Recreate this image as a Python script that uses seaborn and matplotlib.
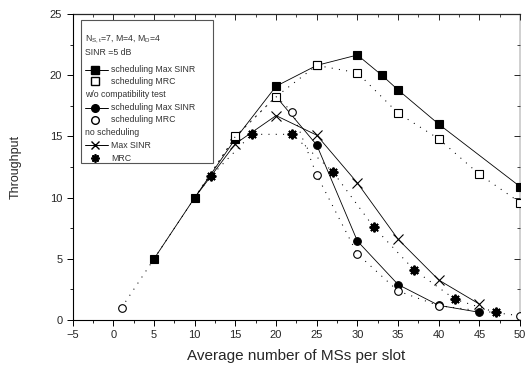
import matplotlib
matplotlib.use("Agg")
import matplotlib.pyplot as plt
import seaborn as sns
from matplotlib.lines import Line2D
from matplotlib.patches import Rectangle
from matplotlib.ticker import MultipleLocator, NullFormatter

# ---- data ----
sched_maxsinr_x = [5, 10, 15, 20, 25, 30, 33, 35, 40, 50]
sched_maxsinr_y = [5.0, 10.0, 14.8, 19.1, 20.8, 21.65, 20.0, 18.8, 16.0, 10.9]

sched_mrc_x = [10, 15, 20, 25, 30, 35, 40, 45, 50]
sched_mrc_y = [10.0, 15.0, 18.25, 20.8, 20.2, 16.9, 14.8, 11.9, 9.6]

compat_maxsinr_x = [20, 25, 30, 35, 40, 45]
compat_maxsinr_y = [18.25, 14.3, 6.45, 2.9, 1.2, 0.63]

compat_mrc_x = [1, 5, 10, 15, 20, 22, 25, 30, 35, 40, 50]
compat_mrc_y = [1.0, 5.0, 10.0, 15.0, 18.25, 17.0, 11.85, 5.4, 2.37, 1.17, 0.35]

nosched_maxsinr_x = [10, 15, 20, 25, 30, 35, 40, 45]
nosched_maxsinr_y = [10.0, 14.4, 16.7, 15.1, 11.2, 6.6, 3.27, 1.3]

nosched_mrc_x = [10, 12, 17, 22, 27, 32, 37, 42, 47]
nosched_mrc_y = [10.0, 11.76, 15.17, 15.17, 12.1, 7.6, 4.08, 1.69, 0.63]

x_ticks = [-5, 0, 5, 10, 15, 20, 25, 30, 35, 40, 45, 50]
y_ticks = [0, 5, 10, 15, 20, 25]

legend_lines = [
    r"$\mathregular{N_{S,t}}$=7, M=4, $\mathregular{M_D}$=4",
    "SINR =5 dB",
    "scheduling Max SINR",
    "scheduling MRC",
    "w/o compatibility test",
    "scheduling Max SINR",
    "scheduling MRC",
    "no scheduling",
    "Max SINR",
    "MRC",
]

sns.set_style("ticks")
plt.rcParams["font.family"] = ["Liberation Sans", "DejaVu Sans"]

fig = plt.figure(figsize=(5.28, 3.73), dpi=100)
ax = fig.add_axes([0.1377, 0.142, 0.8473, 0.8205])

lw = 0.6
dotted = (0, (1, 6))
dlw = 0.75

common = dict(ax=ax, color="black", estimator=None, sort=False)

# filled series first
sns.lineplot(x=compat_maxsinr_x, y=compat_maxsinr_y, lw=lw,
             marker="o", markersize=5.5, markerfacecolor="black", markeredgecolor="black",
             markeredgewidth=0.8, markevery=list(range(1, len(compat_maxsinr_x))),
             zorder=3, **common)
sns.lineplot(x=sched_maxsinr_x, y=sched_maxsinr_y, lw=lw,
             marker="s", markersize=6, markerfacecolor="black", markeredgecolor="black",
             markeredgewidth=0.8, zorder=3, **common)
sns.lineplot(x=nosched_maxsinr_x, y=nosched_maxsinr_y, lw=lw,
             marker="x", markersize=6.5, markeredgecolor="black", markeredgewidth=0.8,
             markevery=list(range(1, len(nosched_maxsinr_x))), zorder=3, **common)
sns.lineplot(x=nosched_mrc_x, y=nosched_mrc_y, lw=dlw, linestyle=dotted,
             marker=(8, 2, 0), markersize=7, markeredgecolor="black", markeredgewidth=1.4,
             markevery=list(range(1, len(nosched_mrc_x))), zorder=3, **common)
# open series on top
sns.lineplot(x=sched_mrc_x, y=sched_mrc_y, lw=dlw, linestyle=dotted,
             marker="s", markersize=6, markerfacecolor="white", markeredgecolor="black",
             markeredgewidth=0.8, markevery=list(range(1, len(sched_mrc_x))),
             zorder=4, **common)
sns.lineplot(x=compat_mrc_x, y=compat_mrc_y, lw=dlw, linestyle=dotted,
             marker="o", markersize=5.5, markerfacecolor="white", markeredgecolor="black",
             markeredgewidth=0.8, markevery=[0] + list(range(5, len(compat_mrc_x))),
             zorder=4, **common)

ax.set_xlim(-5, 50)
ax.set_ylim(0, 25)
ax.set_xticks(x_ticks)
ax.set_yticks(y_ticks)
ax.xaxis.set_minor_locator(MultipleLocator(2.5))
ax.yaxis.set_minor_locator(MultipleLocator(2.5))
ax.tick_params(axis="both", which="major", labelsize=8, length=4, width=0.7, color="black",
               direction="out")
ax.tick_params(axis="both", which="minor", length=2, width=0.6, color="black", direction="out")

# inward ticks on top and right
top = ax.secondary_xaxis("top")
top.set_xticks(x_ticks)
top.xaxis.set_minor_locator(MultipleLocator(2.5))
top.xaxis.set_major_formatter(NullFormatter())
top.tick_params(which="major", direction="in", length=4, width=0.7)
top.tick_params(which="minor", direction="in", length=2, width=0.6)
right = ax.secondary_yaxis("right")
right.set_yticks(y_ticks)
right.yaxis.set_minor_locator(MultipleLocator(2.5))
right.yaxis.set_major_formatter(NullFormatter())
right.tick_params(which="major", direction="in", length=4, width=0.7)
right.tick_params(which="minor", direction="in", length=2, width=0.6)
top.spines["top"].set_linewidth(0.9)
right.spines["right"].set_linewidth(0.3)

for s in ["top", "right"]:
    ax.spines[s].set_visible(False)
for s in ["left", "bottom"]:
    ax.spines[s].set_linewidth(0.8)
    ax.spines[s].set_color("black")

ax.set_xlabel("Average number of MSs per slot", fontsize=11, labelpad=6)
ax.set_ylabel("Throughput", fontsize=9, labelpad=20)

# ---- legend box drawn manually ----
W, H = 447.3, 306.0
def ax_xy(px, py):
    return ((px - 72.7) / W, (320 - py) / H)

bx0, by0 = ax_xy(80.5, 163)
bx1, by1 = ax_xy(213, 20)
ax.add_patch(Rectangle((bx0, by0), bx1 - bx0, by1 - by0, transform=ax.transAxes,
                       facecolor="white", edgecolor="#555555", lw=0.8, zorder=5))

row_y = [39, 53, 70, 81.5, 95, 107.5, 119.5, 132, 145, 158]
fs = 6.3
handle_specs = {
    2: dict(marker="s", mfc="black", ls="-", ms=5.5),
    3: dict(marker="s", mfc="white", ls="none", ms=5.5),
    5: dict(marker="o", mfc="black", ls="-", ms=5.5),
    6: dict(marker="o", mfc="white", ls="none", ms=5.5),
    8: dict(marker="x", mfc="black", ls="-", ms=6),
    9: dict(marker=(8, 2, 0), mfc="black", ls="none", ms=6),
}
for i, (txt, py) in enumerate(zip(legend_lines, row_y)):
    if i in handle_specs:
        spec = handle_specs[i]
        x0, yy = ax_xy(85, py)
        x1, _ = ax_xy(108, py)
        xm, _ = ax_xy(95, py)
        if spec["ls"] != "none":
            ax.add_line(Line2D([x0, x1], [yy, yy], transform=ax.transAxes, color="black",
                               lw=0.7, zorder=6))
        ax.add_line(Line2D([xm], [yy], transform=ax.transAxes, marker=spec["marker"],
                           markersize=spec["ms"], markerfacecolor=spec["mfc"],
                           markeredgecolor="black",
                           markeredgewidth=1.0 if spec["marker"] != (8, 2, 0) else 1.3,
                           ls="none", zorder=7))
        tx, ty = ax_xy(111, py)
    else:
        tx, ty = ax_xy(85, py)
    ax.text(tx, ty, txt, transform=ax.transAxes, fontsize=fs, va="center", ha="left",
            color="#333333", zorder=8)

fig.savefig("out.png", dpi=100)
